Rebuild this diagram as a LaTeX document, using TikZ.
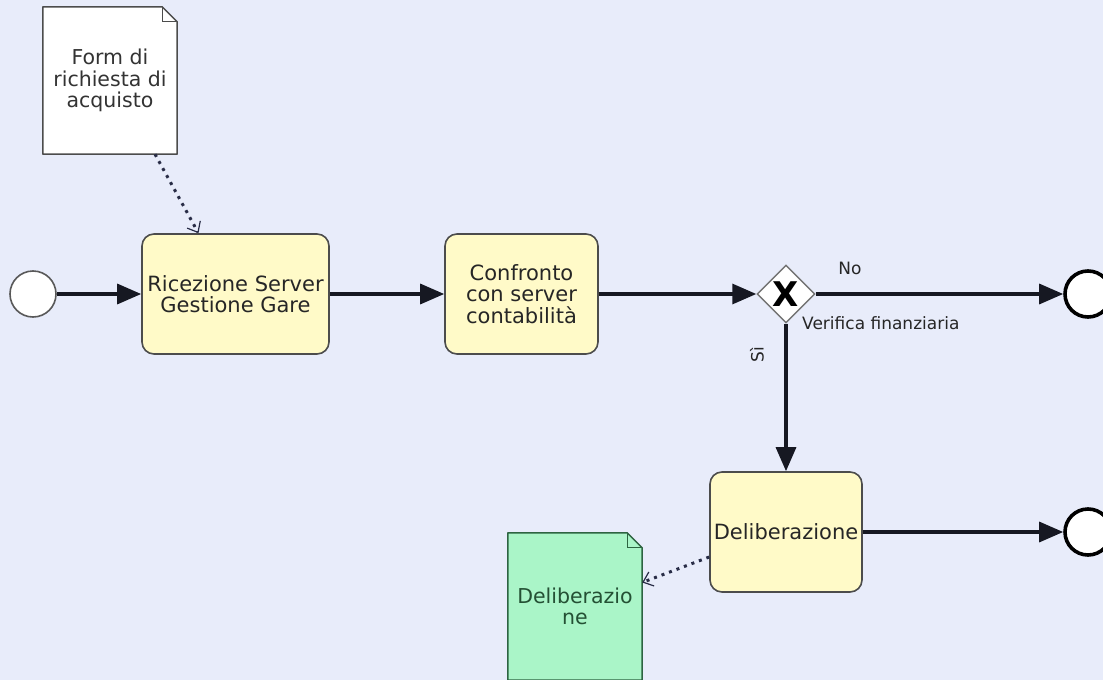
\documentclass[tikz,border=0pt]{standalone}
\usepackage{fontspec}
\setmainfont{DejaVu Sans}
\usepackage{xcolor}
\definecolor{paleback}{RGB}{232,236,250}
\definecolor{taskyellow}{RGB}{255,250,200}
\definecolor{docgreen}{RGB}{170,245,200}
\definecolor{docgreenline}{RGB}{45,100,65}
\definecolor{flowblack}{RGB}{22,24,34}
\definecolor{assocblue}{RGB}{40,44,70}
\usetikzlibrary{shapes.geometric,positioning,arrows.meta,backgrounds}

\tikzset{
	taskbox/.style={
		draw=black!70,        % dark border
		line width=1.6pt,     % border thickness
		fill=taskyellow,      % pale yellow fill
		text=black!85,        % dark text
		rectangle,            % shape
		rounded corners=12pt, % round corners
		align=center,
		inner sep=2pt,
		font=\fontsize{21}{21.5}\selectfont
	},
	docbox/.style={
		rectangle,            % outline is drawn behind
		minimum width=134pt,
		minimum height=147pt,
		inner sep=0pt,
		align=center,
		text=black!80,
		font=\fontsize{20.5}{21.5}\selectfont
	},
	eventring/.style={
		circle,
		fill=white,
		minimum size=46pt,
		inner sep=0pt
	},
	flow/.style={
		draw=flowblack,
		line width=3.2pt,
		-{Triangle[length=24pt,width=20pt]}
	},
	assoc/.style={
		draw=assocblue,
		line width=3pt,
		dash pattern=on 3pt off 5pt, % dotted association
		-{Straight Barb[length=9pt,width=15pt,line width=1.2pt]}
	},
	flowlabel/.style={
		text=black!85,
		inner sep=0pt,
		font=\fontsize{17}{18}\selectfont
	}
}

% document outline with folded corner, behind node #1
\newcommand{\dogear}[3]{%
	\filldraw[fill=#2, draw=#3, line width=1.5pt, line join=round]
		(#1.south west) -- (#1.north west) -- ([xshift=-15pt]#1.north east)
		-- ([yshift=-15pt]#1.north east) -- (#1.south east) -- cycle;
	\draw[draw=#3, line width=1.2pt]
		([xshift=-15pt]#1.north east) -- ([xshift=-15pt,yshift=-15pt]#1.north east)
		-- ([yshift=-15pt]#1.north east);
}

\begin{document}
\begin{tikzpicture}[x=1pt,y=-1pt]
	\useasboundingbox (0,0) rectangle (1103,680);

	% data objects
	\node[docbox] (formdoc) at (110,80.5) {Form di\\richiesta di\\acquisto};
	\node[docbox, text=docgreenline!80!black] (deldoc) at (575,606.5) {Deliberazio\\ne};

	% events, tasks and gateway
	\node[eventring, draw=black!65, line width=1.6pt] (start) at (33,294) {};
	\node[taskbox, minimum width=187pt, minimum height=120pt] (recv) at (235.5,294) {Ricezione Server\\Gestione Gare};
	\node[taskbox, minimum width=153pt, minimum height=120pt] (compare) at (521.5,294) {Confronto\\con server\\contabilità};
	\node[
	diamond,              % exclusive gateway
	draw=black!55,
	fill=white,
	line width=1.4pt,
	minimum width=58pt,
	minimum height=58pt,
	inner sep=0pt
	] (check) at (786,294) {\fontsize{34}{34}\selectfont\bfseries X};
	\node[taskbox, minimum width=152pt, minimum height=120pt] (delib) at (786,532) {Deliberazione};
	\node[eventring, draw=black, line width=3.6pt] (endno) at (1088,294) {};
	\node[eventring, draw=black, line width=3.6pt] (endok) at (1088,532) {};

	\begin{pgfonlayer}{background}
		\fill[paleback] (0,0) rectangle (1103,680);
		\dogear{formdoc}{white}{black!70}
		\dogear{deldoc}{docgreen}{docgreenline}
	\end{pgfonlayer}

	% sequence flows
	\draw[flow] (start) -- (recv);
	\draw[flow] (recv) -- (compare);
	\draw[flow] (compare) -- (check);
	\draw[flow] (check) -- (endno);
	\draw[flow] (check) -- (delib);
	\draw[flow] (delib) -- (endok);

	% associations
	\draw[assoc] ([xshift=45pt]formdoc.south) -- ([xshift=-37pt]recv.north);
	\draw[assoc] ([yshift=-25pt]delib.west) -- ([yshift=24pt]deldoc.east);

	% flow labels
	\node[flowlabel] (nolabel) at (850,268) {No};
	\node[flowlabel, anchor=west] (finlabel) at (802,323) {Verifica finanziaria};
	\node[flowlabel, rotate=90] (silabel) at (757,355) {Sì};
\end{tikzpicture}
\end{document}
